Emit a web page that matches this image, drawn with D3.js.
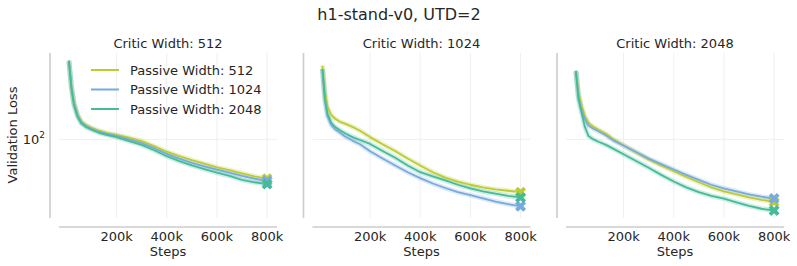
<!DOCTYPE html>
<html>
<head>
<meta charset="utf-8">
<script src="https://cdn.jsdelivr.net/npm/d3@7"></script>
<style>
  body { margin: 0; background: #fff; }
  text { font-family: "DejaVu Sans", sans-serif; fill: #262626; }
</style>
</head>
<body>
<div id="chart"></div>
<script>
// data
var steps = [10e3, 20e3, 30e3, 45e3, 60e3, 80e3, 100e3, 130e3, 160e3, 200e3, 250e3, 300e3,
             350e3, 400e3, 450e3, 500e3, 550e3, 600e3, 650e3, 700e3, 750e3, 800e3]
var critics = ['Critic Width: 512', 'Critic Width: 1024', 'Critic Width: 2048']
var passive = ['Passive Width: 512', 'Passive Width: 1024', 'Passive Width: 2048']
var xTicks = [200e3, 400e3, 600e3, 800e3]

// critic 512
var c512_p512  = [386, 250, 190, 152, 136, 127, 122, 116, 112, 108, 103, 97, 89, 81, 75, 70, 66, 62, 59, 56, 53, 51]
var c512_p1024 = [386, 245, 185, 150, 133, 125, 120, 114, 110, 106, 100, 94, 86, 78, 72, 67, 63, 59.5, 56.5, 53.5, 51, 49]
var c512_p2048 = [380, 240, 180, 147, 131, 123, 118, 112, 108, 104, 97, 91, 83, 75, 69, 64, 60, 56.5, 53.5, 50, 48, 46.5]
// critic 1024
var c1024_p512  = [354, 225, 175, 152, 143, 135, 131, 124, 116, 104, 92, 82, 72, 64, 57, 52, 48.5, 46, 44, 42.5, 41.5, 40.5]
var c1024_p1024 = [334, 195, 150, 128, 119, 112, 105, 98, 92, 81.5, 72, 64, 57, 51.5, 47, 43.5, 40.5, 38.5, 36.5, 34.5, 33, 31.8]
var c1024_p2048 = [334, 200, 155, 133, 124, 117, 111, 104, 99, 92.5, 82, 73, 64, 57, 53, 49.5, 46, 43.3, 41, 39.5, 38, 37]
// critic 2048
var c2048_p512  = [324, 225, 186, 150, 133, 124, 118, 110, 100, 90, 80, 71, 64, 58, 52.5, 48, 44, 41, 39, 37, 35.5, 34.3]
var c2048_p1024 = [324, 210, 172, 142, 127, 120, 115, 107, 98, 90, 80.5, 72, 65.5, 59.7, 54.5, 50, 46, 43.3, 41, 39, 37.5, 36.3]
var c2048_p2048 = [320, 200, 166, 125, 106, 100, 96, 91, 85, 77.6, 69, 61.5, 54.5, 48.6, 44, 40.5, 38, 36.3, 34, 32, 30.5, 29.6]

var panels = [
  [c512_p512, c512_p1024, c512_p2048],
  [c1024_p512, c1024_p1024, c1024_p2048],
  [c2048_p512, c2048_p1024, c2048_p2048]
]
var color = ['#BBCC33', '#77AADD', '#44BB99']

var width = 797, height = 266
var svg = d3.select('#chart').append('svg').attr('width', width).attr('height', height)

var yTop = 53, yBot = 218, pw = 218
var lefts = [59, 312.5, 566]

// x with 5% margins like matplotlib
var xmin = 10e3, xmax = 800e3, xpad = (xmax - xmin) * 0.05
// y log with 5% margins
var allv = [].concat.apply([], panels.map(function (p) { return [].concat.apply([], p) }))
var lmin = Math.log10(d3.min(allv)), lmax = Math.log10(d3.max(allv))
var lpad = (lmax - lmin) * 0.05
var y = d3.scaleLog().domain([Math.pow(10, lmin - lpad), Math.pow(10, lmax + lpad)]).range([yBot, yTop])

svg.append('text').attr('x', 399).attr('y', 20).attr('text-anchor', 'middle')
  .style('font-size', '16px').text('h1-stand-v0, UTD=2')

svg.append('text').attr('transform', 'translate(17,' + 135 + ') rotate(-90)')
  .attr('text-anchor', 'middle').style('font-size', '13px').text('Validation Loss')

panels.forEach(function (series, pi) {
  var x0 = lefts[pi]
  var x = d3.scaleLinear().domain([xmin - xpad, xmax + xpad]).range([x0, x0 + pw])
  var g = svg.append('g')

  // grid
  g.selectAll('.vgrid').data(xTicks).enter().append('line')
    .attr('x1', function (d) { return x(d) }).attr('x2', function (d) { return x(d) })
    .attr('y1', yTop).attr('y2', yBot)
    .attr('stroke', '#ebebeb').attr('stroke-width', 0.8)
  g.append('line').attr('x1', x0).attr('x2', x0 + pw)
    .attr('y1', y(100)).attr('y2', y(100))
    .attr('stroke', '#ebebeb').attr('stroke-width', 0.8)

  // spines (offset)
  g.append('line').attr('x1', x0 - 9).attr('x2', x0 - 9).attr('y1', yTop).attr('y2', yBot)
    .attr('stroke', '#cccccc').attr('stroke-width', 1.6)
  g.append('line').attr('x1', x0).attr('x2', x0 + pw).attr('y1', yBot + 9).attr('y2', yBot + 9)
    .attr('stroke', '#cccccc').attr('stroke-width', 1.6)

  // x tick labels
  g.selectAll('.xt').data(xTicks).enter().append('text')
    .attr('x', function (d) { return x(d) }).attr('y', 241)
    .attr('text-anchor', 'middle').style('font-size', '13px')
    .text(function (d) { return d3.format('d')(d / 1000) + 'k' })
  g.append('text').attr('x', x0 + pw / 2).attr('y', 256).attr('text-anchor', 'middle')
    .style('font-size', '13px').text('Steps')

  if (pi === 0) {
    var lab = g.append('text').attr('x', x0 - 14).attr('y', y(100) + 5)
      .attr('text-anchor', 'end').style('font-size', '13px')
    lab.append('tspan').text('10')
    lab.append('tspan').attr('dy', -6).style('font-size', '9px').text('2')
  }

  g.append('text').attr('x', x0 + pw / 2).attr('y', 48).attr('text-anchor', 'middle')
    .style('font-size', '13px').text(critics[pi])

  var line = d3.line()
    .x(function (d, i) { return x(steps[i]) })
    .y(function (d) { return y(d) })

  series.forEach(function (vals, si) {
    g.append('path').datum(vals).attr('d', line).attr('fill', 'none')
      .attr('stroke', color[si]).attr('stroke-opacity', 0.25).attr('stroke-width', 5)
  })
  series.forEach(function (vals, si) {
    g.append('path').datum(vals).attr('d', line).attr('fill', 'none')
      .attr('stroke', color[si]).attr('stroke-width', 1.8).attr('stroke-linejoin', 'round')
  })
  series.forEach(function (vals, si) {
    var last = vals[vals.length - 1]
    g.append('path').attr('d', d3.symbol().type(d3.symbolCross).size(75)())
      .attr('transform', 'translate(' + x(steps[steps.length - 1]) + ',' + y(last) + ') rotate(45)')
      .attr('fill', color[si])
  })

  if (pi === 0) {
    var leg = g.append('g')
    passive.forEach(function (p, si) {
      var ly = 70 + si * 19.5
      leg.append('line').attr('x1', 91).attr('x2', 119).attr('y1', ly).attr('y2', ly)
        .attr('stroke', color[si]).attr('stroke-width', 2)
      leg.append('text').attr('x', 130).attr('y', ly + 4.5).style('font-size', '13px').text(p)
    })
  }
})
</script>
</body>
</html>
